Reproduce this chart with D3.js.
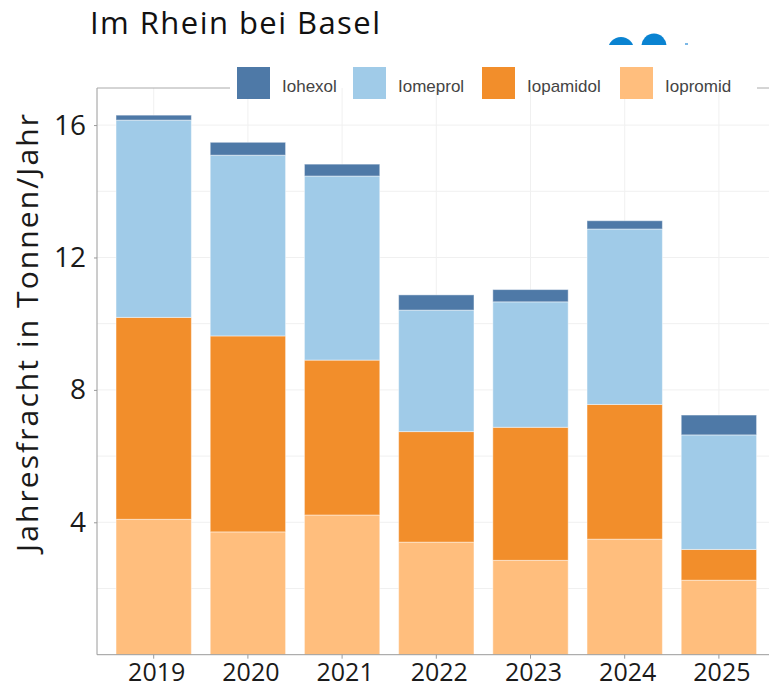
<!DOCTYPE html>
<html>
<head>
<meta charset="utf-8">
<script src="https://cdn.jsdelivr.net/npm/d3@7"></script>
<style>
  body { margin: 0; background: #fff; }
  svg { display: block; }
</style>
</head>
<body>
<div class="chart"></div>
<script>
// data (tonnes per year)
var years = ["2019", "2020", "2021", "2022", "2023", "2024", "2025"];
var seriesNames = ["Iopromid", "Iopamidol", "Iomeprol", "Iohexol"];
var iopromid  = [4.09, 3.71, 4.22, 3.40, 2.85, 3.49, 2.25];
var iopamidol = [6.10, 5.92, 4.68, 3.34, 4.02, 4.07, 0.93];
var iomeprol  = [5.96, 5.46, 5.56, 3.67, 3.79, 5.30, 3.46];
var iohexol   = [0.15, 0.39, 0.36, 0.46, 0.37, 0.25, 0.60];
var yTicks = [4, 8, 12, 16];
var legendOrder = ["Iohexol", "Iomeprol", "Iopamidol", "Iopromid"];

var colors = {
  Iohexol: "#4e79a7",
  Iomeprol: "#a0cbe8",
  Iopamidol: "#f28e2b",
  Iopromid: "#ffbe7d"
};

var svgWidth = 769;
var svgHeight = 689;

var svg = d3.select(".chart")
  .append("svg")
  .attr("width", svgWidth)
  .attr("height", svgHeight);

var table = years.map(function(y, i) {
  return {
    year: y,
    Iopromid: iopromid[i],
    Iopamidol: iopamidol[i],
    Iomeprol: iomeprol[i],
    Iohexol: iohexol[i]
  };
});

var stacked = d3.stack().keys(seriesNames)(table);

var plotLeft = 97, plotTop = 88, plotBottom = 654.7;

var xScale = d3.scaleBand()
  .domain(years)
  .range([106.6, 766])
  .paddingInner(0.2)
  .paddingOuter(0.1);

var yScale = d3.scaleLinear()
  .domain([0, 17.12])
  .range([plotBottom, plotTop]);

// grid
var grid = svg.append("g");
grid.selectAll(".hgrid")
  .data(d3.range(2, 17, 2))
  .enter()
  .append("line")
  .attr("x1", plotLeft)
  .attr("x2", svgWidth)
  .attr("y1", d => yScale(d))
  .attr("y2", d => yScale(d))
  .attr("stroke", "#f0f0f0")
  .attr("stroke-width", 1);

grid.selectAll(".vgrid")
  .data(years)
  .enter()
  .append("line")
  .attr("x1", d => xScale(d) + xScale.bandwidth() / 2)
  .attr("x2", d => xScale(d) + xScale.bandwidth() / 2)
  .attr("y1", plotTop)
  .attr("y2", plotBottom)
  .attr("stroke", "#f0f0f0")
  .attr("stroke-width", 1);

// bars
svg.append("g")
  .selectAll("g")
  .data(stacked)
  .enter()
  .append("g")
  .attr("fill", d => colors[d.key])
  .selectAll("rect")
  .data(d => d)
  .enter()
  .append("rect")
  .attr("x", d => xScale(d.data.year))
  .attr("y", d => yScale(d[1]))
  .attr("width", xScale.bandwidth())
  .attr("height", d => yScale(d[0]) - yScale(d[1]))
  .attr("stroke", "#ffffff")
  .attr("stroke-opacity", 0.45)
  .attr("stroke-width", 1);

// axes
var leftAxis = d3.axisLeft(yScale)
  .tickValues(yTicks)
  .tickSize(3)
  .tickPadding(8)
  .tickFormat(d3.format("d"));

var yAxisG = svg.append("g")
  .attr("transform", `translate(${plotLeft}, 0)`)
  .call(leftAxis);
yAxisG.select(".domain").attr("stroke", "#9a9a9a").attr("d", `M0,${plotTop}V${plotBottom}`);
yAxisG.selectAll(".tick line").attr("stroke", "#9a9a9a");
yAxisG.selectAll(".tick text")
  .attr("font-family", "Open Sans")
  .attr("font-size", 28)
  .attr("fill", "#1a1a1a");

var bottomAxis = d3.axisBottom(xScale)
  .tickSize(4)
  .tickPadding(5);

var xAxisG = svg.append("g")
  .attr("transform", `translate(0, ${plotBottom})`)
  .call(bottomAxis);
xAxisG.select(".domain").attr("stroke", "#9a9a9a").attr("d", `M${plotLeft},0H${svgWidth}`);
xAxisG.selectAll(".tick line").attr("stroke", "#9a9a9a");
xAxisG.selectAll(".tick text")
  .attr("font-family", "Open Sans")
  .attr("font-size", 25)
  .attr("fill", "#1a1a1a")
  .attr("dx", 3);

// top border of the panel, interrupted by the legend
svg.append("line")
  .attr("x1", plotLeft).attr("x2", 230)
  .attr("y1", plotTop).attr("y2", plotTop)
  .attr("stroke", "#aaaaaa");
svg.append("line")
  .attr("x1", 757).attr("x2", svgWidth)
  .attr("y1", plotTop).attr("y2", plotTop)
  .attr("stroke", "#aaaaaa");

// legend
var legendX = [237, 353, 482, 620];
var legend = svg.append("g")
  .selectAll("g")
  .data(legendOrder)
  .enter()
  .append("g")
  .attr("transform", (d, i) => `translate(${legendX[i]}, 67)`);

legend.append("rect")
  .attr("width", 33)
  .attr("height", 32)
  .attr("fill", d => colors[d]);

legend.append("text")
  .attr("x", 45)
  .attr("y", 24.5)
  .attr("font-family", "Liberation Sans")
  .attr("font-size", 17)
  .attr("fill", "#444")
  .text(d => d);

// title
svg.append("text")
  .attr("x", 90)
  .attr("y", 34)
  .attr("font-family", "Open Sans")
  .attr("font-size", 31)
  .attr("textLength", 290)
  .attr("lengthAdjust", "spacing")
  .attr("fill", "#111")
  .text("Im Rhein bei Basel");

// cropped logo pieces top right
var clip = svg.append("clipPath").attr("id", "logoClip");
clip.append("rect").attr("x", 590).attr("y", 20).attr("width", 120).attr("height", 25);
var logo = svg.append("g").attr("clip-path", "url(#logoClip)").attr("fill", "#0a83d1");
logo.append("circle").attr("cx", 621).attr("cy", 50).attr("r", 13);
logo.append("circle").attr("cx", 654).attr("cy", 46).attr("r", 12.5);
logo.append("rect").attr("x", 685).attr("y", 43).attr("width", 3).attr("height", 2).attr("fill", "#7bb8e6");

// y axis title
svg.append("text")
  .attr("transform", "rotate(-90)")
  .attr("x", -333)
  .attr("y", 38)
  .attr("text-anchor", "middle")
  .attr("font-family", "Open Sans")
  .attr("font-size", 30)
  .attr("textLength", 438)
  .attr("lengthAdjust", "spacing")
  .attr("fill", "#1a1a1a")
  .text("Jahresfracht in Tonnen/Jahr");
</script>
</body>
</html>
